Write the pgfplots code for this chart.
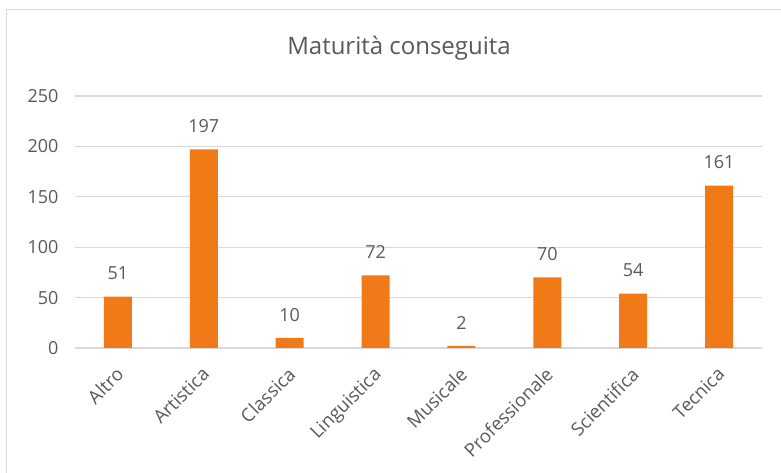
\documentclass[border=0pt]{standalone}
\usepackage{fontspec}
\setmainfont{Open Sans}
\usepackage{pgfplots}
\pgfplotsset{compat=1.18}
\definecolor{barc}{HTML}{F07A17}
\definecolor{txt}{HTML}{595959}
\definecolor{gridc}{HTML}{D9D9D9}
\begin{document}
\begin{tikzpicture}[x=1pt,y=1pt]
\useasboundingbox (0,0) rectangle (781,473);
\draw[gridc, line width=1.5pt] (6.5,0) -- (6.5,463.5) -- (781,463.5);
\node[txt, font=\fontsize{24}{28}\selectfont] at (399,425) {Maturità conseguita};
\begin{axis}[
  at={(75pt,125pt)}, anchor=south west,
  scale only axis, width=687pt, height=252pt,
  xmin=-0.5, xmax=7.5, ymin=0, ymax=250,
  ytick={0,50,...,250},
  xtick=data,
  xticklabels={Altro,Artistica,Classica,Linguistica,Musicale,Professionale,Scientifica,Tecnica},
  ymajorgrids, grid style={gridc, line width=1.2pt},
  axis line style={draw=none},
  major tick length=0pt,
  /pgf/number format/assume math mode=true,
  yticklabel style={txt, font=\fontsize{18}{21}\selectfont, xshift=-13pt},
  xticklabel style={txt, font=\fontsize{18.5}{22}\selectfont, xshift=-3pt, yshift=-13pt, rotate=45, anchor=north east},
  ybar, bar width=28pt,
  nodes near coords,
  every node near coord/.append style={txt, font=\fontsize{18}{21}\selectfont, yshift=13pt},
  clip=false,
]
\addplot[fill=barc, draw=none] coordinates {(0,51) (1,197) (2,10) (3,72) (4,2) (5,70) (6,54) (7,161)};
\end{axis}
\end{tikzpicture}
\end{document}
